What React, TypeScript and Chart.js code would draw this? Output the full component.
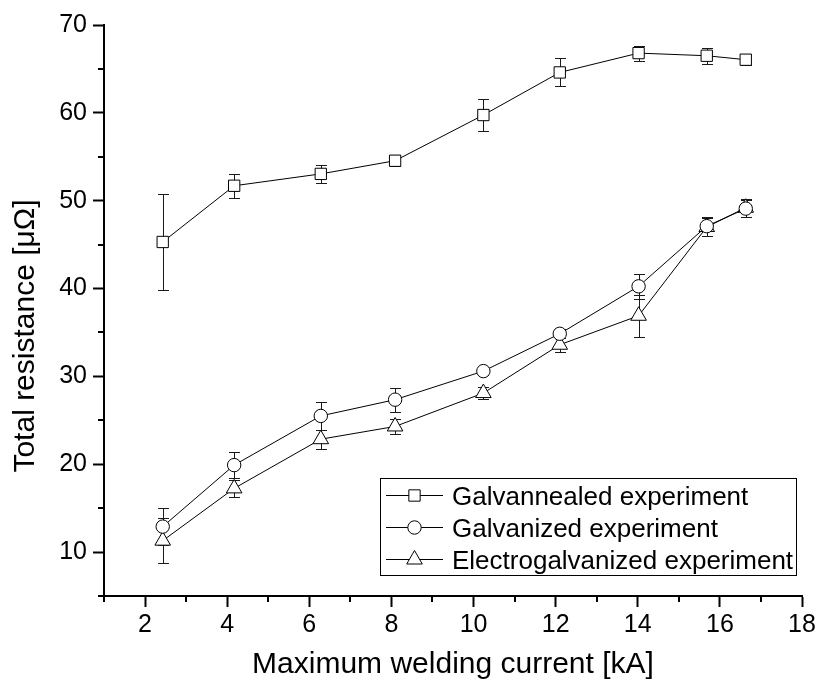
import React, { useEffect, useRef } from 'react';
import { Chart, registerables } from 'chart.js';

Chart.register(...registerables);

// Maximum welding current [kA] at which each measurement was taken
const currents = [2.43, 4.17, 6.28, 8.09, 10.24, 12.1, 14.02, 15.68, 16.63];

// Total resistance [μΩ] and its standard deviation per coating
const galvannealed = [45.3, 51.7, 53.05, 54.55, 59.75, 64.6, 66.8, 66.5, 66.05];
const galvannealedErr = [5.5, 1.35, 1.05, 0.6, 1.8, 1.6, 0.85, 0.9, 0.6];

const galvanized = [12.9, 19.9, 25.5, 27.35, 30.6, 34.85, 40.25, 47.1, 49.1];
const galvanizedErr = [2.15, 1.5, 1.6, 1.35, 0.45, 0.5, 1.45, 1.1, 1.0];

const electrogalvanized = [11.3, 17.25, 22.85, 24.3, 28.1, 33.6, 36.9, 47.0, 49.2];
const electrogalvanizedErr = [2.6, 0.95, 1.1, 0.9, 0.7, 0.8, 2.4, 1.0, 1.0];

const seriesLabels = [
  'Galvannealed experiment',
  'Galvanized experiment',
  'Electrogalvanized experiment',
];

const xTicks = [2, 4, 6, 8, 10, 12, 14, 16, 18];
const xMinorTicks = [1, 3, 5, 7, 9, 11, 13, 15, 17];
const yTicks = [10, 20, 30, 40, 50, 60, 70];
const yMinorTicks = [5, 15, 25, 35, 45, 55, 65];

const xTitle = 'Maximum welding current [kA]';
const yTitle = 'Total resistance [μΩ]';

const FONT = "'Liberation Sans', Arial, Helvetica, sans-serif";

type Marker = 'rect' | 'circle' | 'triangle';

const markers: Marker[] = ['rect', 'circle', 'triangle'];
const markerRadius: Record<Marker, number> = { rect: 8, circle: 6.7, triangle: 9 };

function drawMarker(ctx: CanvasRenderingContext2D, kind: Marker, x: number, y: number) {
  const r = markerRadius[kind];
  ctx.beginPath();
  if (kind === 'rect') {
    const h = r * Math.SQRT1_2;
    ctx.rect(x - h, y - h, 2 * h, 2 * h);
  } else if (kind === 'circle') {
    ctx.arc(x, y, r, 0, Math.PI * 2);
  } else {
    ctx.moveTo(x, y - r);
    ctx.lineTo(x + r * Math.sin(Math.PI / 3), y + r * 0.5);
    ctx.lineTo(x - r * Math.sin(Math.PI / 3), y + r * 0.5);
    ctx.closePath();
  }
  ctx.fillStyle = '#fff';
  ctx.fill();
  ctx.strokeStyle = '#000';
  ctx.lineWidth = 1;
  ctx.stroke();
}

// Vertical error bars with caps, drawn under the lines and markers
const errorBarPlugin = {
  id: 'errorBars',
  beforeDatasetsDraw(chart: any) {
    const { ctx, scales } = chart;
    const xs = scales.x;
    const ys = scales.y;
    ctx.save();
    ctx.strokeStyle = '#1a1a1a';
    ctx.lineWidth = 1;
    chart.data.datasets.forEach((ds: any) => {
      ds.data.forEach((p: any, i: number) => {
        const e = ds.errors[i];
        const px = Math.round(xs.getPixelForValue(p.x)) + 0.5;
        const top = Math.round(ys.getPixelForValue(p.y + e)) + 0.5;
        const bot = Math.round(ys.getPixelForValue(p.y - e)) + 0.5;
        ctx.beginPath();
        ctx.moveTo(px, top);
        ctx.lineTo(px, bot);
        ctx.moveTo(px - 5.5, top);
        ctx.lineTo(px + 5.5, top);
        ctx.moveTo(px - 5.5, bot);
        ctx.lineTo(px + 5.5, bot);
        ctx.stroke();
      });
    });
    ctx.restore();
  },
};

// Minor ticks, axis titles and the framed legend inside the plot
const decorPlugin = {
  id: 'decor',
  afterDraw(chart: any) {
    const { ctx, scales, chartArea } = chart;
    const xs = scales.x;
    const ys = scales.y;
    ctx.save();

    ctx.strokeStyle = '#000';
    ctx.lineWidth = 2;
    ctx.beginPath();
    xMinorTicks.forEach((v) => {
      const px = Math.round(xs.getPixelForValue(v));
      ctx.moveTo(px, chartArea.bottom);
      ctx.lineTo(px, chartArea.bottom + 6);
    });
    yMinorTicks.forEach((v) => {
      const py = Math.round(ys.getPixelForValue(v));
      ctx.moveTo(chartArea.left, py);
      ctx.lineTo(chartArea.left - 6, py);
    });
    ctx.stroke();

    ctx.fillStyle = '#000';
    ctx.font = `30px ${FONT}`;
    ctx.textAlign = 'center';
    ctx.textBaseline = 'alphabetic';
    ctx.fillText(xTitle, (chartArea.left + chartArea.right) / 2, 673);

    ctx.save();
    ctx.translate(34, 336);
    ctx.rotate(-Math.PI / 2);
    ctx.fillText(yTitle, 0, 0);
    ctx.restore();

    // legend
    const box = { left: 380.5, top: 478.5, right: 796.5, bottom: 575.5 };
    ctx.lineWidth = 1;
    ctx.strokeStyle = '#000';
    ctx.strokeRect(box.left, box.top, box.right - box.left, box.bottom - box.top);
    const rows = [495.5, 527.5, 559.5];
    ctx.font = `26px ${FONT}`;
    ctx.textAlign = 'left';
    chart.data.datasets.forEach((ds: any, i: number) => {
      const ry = rows[i];
      ctx.beginPath();
      ctx.moveTo(386, ry);
      ctx.lineTo(443, ry);
      ctx.strokeStyle = '#000';
      ctx.lineWidth = 1;
      ctx.stroke();
      drawMarker(ctx, markers[i], 414.5, ry);
      ctx.fillStyle = '#000';
      ctx.fillText(ds.label, 452, ry + 9.5);
    });

    ctx.restore();
  },
};

export default function App() {
  const canvasRef = useRef<HTMLCanvasElement>(null);

  useEffect(() => {
    document.body.style.margin = '0';
    const values = [galvannealed, galvanized, electrogalvanized];
    const errors = [galvannealedErr, galvanizedErr, electrogalvanizedErr];

    const datasets = values.map((vals, i) => ({
      label: seriesLabels[i],
      data: currents.map((x, j) => ({ x, y: vals[j] })),
      errors: errors[i],
      showLine: true,
      borderColor: '#000',
      borderWidth: 1,
      backgroundColor: '#fff',
      pointStyle: markers[i],
      pointRadius: markerRadius[markers[i]],
      pointBorderWidth: 1,
      pointBorderColor: '#000',
      pointBackgroundColor: '#fff',
      tension: 0,
    }));

    const chart = new Chart(canvasRef.current as HTMLCanvasElement, {
      type: 'scatter',
      data: { datasets } as any,
      options: {
        animation: false,
        responsive: false,
        events: [],
        layout: { padding: { top: 25, right: 17, left: 0, bottom: 0 } },
        plugins: {
          legend: { display: false },
          tooltip: { enabled: false },
        },
        scales: {
          x: {
            type: 'linear',
            min: 1,
            max: 18,
            afterBuildTicks: (s: any) => {
              s.ticks = xTicks.map((v) => ({ value: v }));
            },
            afterFit: (s: any) => {
              s.height = 92;
            },
            border: { display: true, color: '#000', width: 2 },
            grid: {
              display: true,
              drawOnChartArea: false,
              drawTicks: true,
              tickLength: 11,
              tickWidth: 2,
              tickColor: '#000',
            },
            ticks: {
              color: '#000',
              font: { size: 25, family: FONT },
              padding: 3,
              maxRotation: 0,
              autoSkip: false,
            },
          },
          y: {
            type: 'linear',
            min: 5,
            max: 70,
            afterBuildTicks: (s: any) => {
              s.ticks = yTicks.map((v) => ({ value: v }));
            },
            afterFit: (s: any) => {
              s.width = 104;
            },
            border: { display: true, color: '#000', width: 2 },
            grid: {
              display: true,
              drawOnChartArea: false,
              drawTicks: true,
              tickLength: 11,
              tickWidth: 2,
              tickColor: '#000',
            },
            ticks: {
              color: '#000',
              font: { size: 25, family: FONT },
              padding: 6,
              autoSkip: false,
            },
          },
        },
      } as any,
      plugins: [errorBarPlugin, decorPlugin],
    });

    return () => chart.destroy();
  }, []);

  return (
    <div style={{ width: 819, height: 688, background: '#fff' }}>
      <canvas ref={canvasRef} width={819} height={688} style={{ display: 'block', width: 819, height: 688 }} />
    </div>
  );
}
